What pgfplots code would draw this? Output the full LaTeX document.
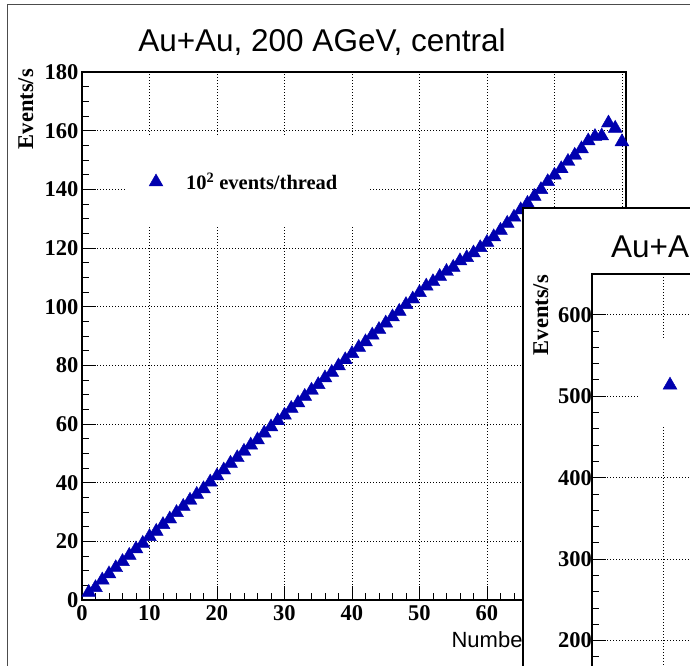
\documentclass[border=0pt]{standalone}
\usepackage{fontspec}
\setmainfont{Liberation Serif}
\newfontfamily\helv{Liberation Sans}
\usepackage{pgfplots}
\pgfplotsset{compat=1.18}
\definecolor{rootblue}{RGB}{0,0,175}

\pgfplotstableread{
n rate
1 2.6
2 4.2
3 6.8
4 8.9
5 11.0
6 13.1
7 15.2
8 17.4
9 19.3
10 21.6
11 23.4
12 25.7
13 27.6
14 29.8
15 31.9
16 34.0
17 36.0
18 37.9
19 40.2
20 42.3
21 44.3
22 46.6
23 48.5
24 50.7
25 52.8
26 54.6
27 56.9
28 59.0
29 61.1
30 63.0
31 65.3
32 67.2
33 69.4
34 71.5
35 73.4
36 75.7
37 77.6
38 79.8
39 81.9
40 84.0
41 86.1
42 88.0
43 90.3
44 92.2
45 94.4
46 96.5
47 98.4
48 100.7
49 102.6
50 104.8
51 107.0
52 108.5
53 110.3
54 112.0
55 113.4
56 115.6
57 116.7
58 118.3
59 120.1
60 121.9
61 123.8
62 126.0
63 128.4
64 130.5
65 133.0
66 135.2
67 137.6
68 139.9
69 142.6
70 144.8
71 147.0
72 149.5
73 151.6
74 153.8
75 156.5
76 158.0
77 158.2
78 162.6
79 160.8
80 156.2
}\mainrate

\pgfplotsset{
  rootstyle/.style={
    scale only axis, clip=false,
    tick align=inside, xtick pos=left, ytick pos=left,
    major tick length=14bp, minor tick length=7bp,
    every tick/.style={black, line width=0.8bp},
    grid=major, major grid style={black, line width=0.6bp, dash pattern=on 1bp off 2bp},
    axis line style={line width=1.4bp},
    /pgf/number format/assume math mode=true,
    ticklabel style={font=\bfseries\fontsize{22.5bp}{27bp}\selectfont},
    legend style={draw=none, fill=none, inner sep=0pt, outer sep=0pt, anchor=west,
      font=\bfseries\fontsize{20.5bp}{24bp}\selectfont},
    legend cell align=left,
  },
  rootlegimg/.style={
    legend image code/.code={\path[draw=none,fill=none] (-15bp,-4bp) rectangle (28bp,8bp);
      \draw[mark repeat=2,mark phase=2,##1] plot coordinates {(-15bp,0bp) (0bp,0bp) (28bp,0bp)};},
  },
}

\begin{document}
\begin{tikzpicture}[x=1bp,y=1bp]
\path[use as bounding box] (0,0) rectangle (690,666);
\clip (0,0) rectangle (690,666);
\fill[white] (0,0) rectangle (690,666);
\draw[gray!60!black, line width=1bp] (7.5,-2) -- (7.5,661.5) -- (700,661.5);
\node[font=\helv\fontsize{31.5bp}{37bp}\selectfont, anchor=base, inner sep=0pt] at (322,614) {Au+Au, 200 AGeV, central};
\node[font=\bfseries\fontsize{22.5bp}{27bp}\selectfont, rotate=90, anchor=base east, inner sep=0pt] at (33,597) {Events/s};
\node[font=\helv\fontsize{22bp}{26bp}\selectfont, anchor=base east, inner sep=0pt] at (634,18) {Number of threads};

\begin{axis}[rootstyle,
  at={(82bp,66bp)}, anchor=south west, width=544bp, height=528bp,
  xmin=0, xmax=80.6, ymin=0, ymax=180,
  xtick={0,10,...,80}, ytick={0,20,...,180},
  minor x tick num=4, minor y tick num=3,
  xticklabel style={yshift=-2.5bp},
  legend style={at={(axis description cs:0.1085,0.7917)}},
]
\fill[white] (axis cs:6.37,127.8) rectangle (axis cs:42.4,157.8);
\addplot[only marks, mark=triangle*, mark size=8bp, mark options={fill=rootblue, draw=rootblue}, color=rootblue, rootlegimg] table[x=n, y=rate] {\mainrate};
\addlegendentry{10\textsuperscript{2} events/thread}
\end{axis}

% overlapping second canvas
\fill[white] (523,-5) rectangle (700,458);
\draw[black, line width=1.2bp] (523,-5) -- (523,458) -- (700,458);
\node[font=\helv\fontsize{31.5bp}{37bp}\selectfont, anchor=base west, inner sep=0pt] at (611,408) {Au+Au, 200 AGeV, central};
\node[font=\bfseries\fontsize{22.5bp}{27bp}\selectfont, rotate=90, anchor=base east, inner sep=0pt] at (548,391) {Events/s};

\begin{axis}[rootstyle,
  at={(592bp,392bp)}, anchor=north west, width=568bp, height=448bp,
  xmin=0, xmax=80, ymin=100, ymax=650,
  xtick={0,10,...,80}, ytick={100,200,...,600},
  minor x tick num=4, minor y tick num=4,
  yticklabel style={xshift=3.5bp},
  legend style={at={(axis description cs:0.1109,0.752)}},
]
\fill[white] (axis cs:6.76,465) rectangle (axis cs:90,569);
\addlegendimage{only marks, mark=triangle*, mark size=8bp, mark options={fill=rootblue, draw=rootblue}, color=rootblue, rootlegimg}
\addlegendentry{10\textsuperscript{3} events/thread}
\end{axis}
\end{tikzpicture}
\end{document}
